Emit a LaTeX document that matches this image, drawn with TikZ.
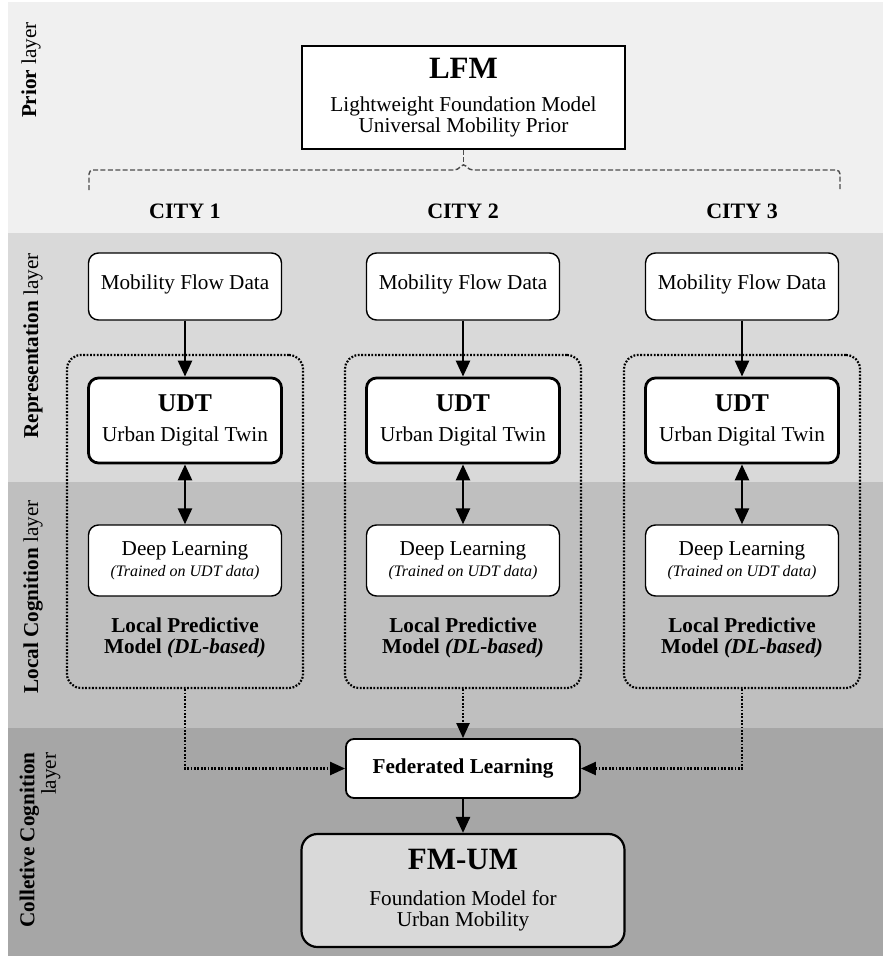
\documentclass[tikz,border=0pt]{standalone}
\usepackage{fontspec}
\setmainfont{Liberation Serif}
\usetikzlibrary{arrows.meta,positioning}
\colorlet{priorband}{black!6}
\colorlet{reprband}{black!15}
\colorlet{localband}{black!25}
\colorlet{collband}{black!35}
\colorlet{fmumfill}{black!15}
\colorlet{bracketgray}{black!70}
\newcommand{\bodysize}{\fontsize{10.6}{10.5}\selectfont}
\newcommand{\titlesize}{\fontsize{15.5}{16}\selectfont\bfseries}
\newcommand{\udtsize}{\fontsize{12.8}{13}\selectfont\bfseries}
\newcommand{\notesize}{\fontsize{8}{9}\selectfont\itshape}

\begin{document}
\begin{tikzpicture}[x=0.5pt,y=-0.5pt,
  box/.style={draw, fill=white, rounded corners=5pt, line width=0.7pt, minimum width=96.5pt, align=center, font=\bodysize, inner sep=2pt},
  udtbox/.style={box, line width=1.4pt, minimum height=42.5pt},
  lpmbox/.style={draw, dash pattern=on 0.9pt off 0.8pt, line width=1.1pt, rounded corners=7pt, minimum width=118pt, minimum height=166.5pt},
  layerlabel/.style={rotate=90, font=\bodysize, inner sep=0pt},
  citylabel/.style={font=\fontsize{11}{12}\selectfont\bfseries},
  lpmlabel/.style={font=\bodysize\bfseries, align=center},
  solidarrow/.style={line width=1.3pt, -{Triangle[length=8pt,width=7pt]}},
  dotarrow/.style={line width=1.1pt, dash pattern=on 0.9pt off 0.8pt, -{Triangle[length=7.5pt,width=6.5pt]}},
  bracket/.style={draw=bracketgray, line width=0.7pt, dash pattern=on 2.5pt off 1.2pt}]
  \useasboundingbox (0,0) rectangle (883,963);

% layer bands
  \fill[priorband] (8,2) rectangle (883,233);
  \fill[reprband] (8,233) rectangle (883,482);
  \fill[localband] (8,482) rectangle (883,728);
  \fill[collband] (8,728) rectangle (883,956);

  \node[layerlabel] (prior_lbl) at (31,70) {\textbf{Prior} layer};
  \node[layerlabel] (repr_lbl) at (33,346) {\textbf{Representation} layer};
  \node[layerlabel] (local_lbl) at (33,597) {\textbf{Local Cognition} layer};
  \node[layerlabel, align=right, font=\fontsize{10.6}{7.6}\selectfont] (coll_lbl) at (40,840) {\textbf{Colletive Cognition}\\layer};

% prior model
  \coordinate (lfm_c) at (463.5,97.5);
  \node[draw, fill=white, line width=1pt, minimum width=161.5pt, minimum height=51.5pt, align=center, font=\bodysize] (lfm) at (lfm_c) {\titlesize LFM\\[6pt]Lightweight Foundation Model\\Universal Mobility Prior};

  \coordinate (br_left) at (89,190);
  \coordinate (br_right) at (840,190);
  \coordinate (br_peak) at (463.5,163);
  \draw[bracket] (lfm.south) -- (br_peak);
  \draw[bracket, rounded corners=2pt] (br_left) -- (89,170) -- (458,170) -- (br_peak) -- (469,170) -- (840,170) -- (br_right);

% cities
  \foreach \i/\x in {1/185,2/463,3/742}{
    \node[citylabel] (city\i) at (\x,211) {CITY \i};
    \node[lpmbox] (lpm_box\i) at (\x,521.5) {};
    \node[box, minimum height=33.5pt, text depth=4pt] (mfd\i) at (\x,286.5) {Mobility Flow Data};
    \node[udtbox] (udt\i) at (\x,420.5) {\udtsize UDT\\[4.5pt]Urban Digital Twin};
    \node[box, minimum height=35.5pt] (dl\i) at (\x,560.5) {Deep Learning\\\notesize (Trained on UDT data)};
    \node[lpmlabel] (lpm\i) at (\x,637.5) {Local Predictive\\Model \textit{(DL-based)}};
    \draw[solidarrow] (mfd\i) -- (udt\i);
    \draw[solidarrow, {Triangle[length=8pt,width=7pt]}-{Triangle[length=8pt,width=7pt]}] (udt\i) -- (dl\i);
  }

% collective cognition
  \node[draw, fill=white, rounded corners=4pt, line width=0.9pt, minimum width=117pt, minimum height=29.5pt, font=\bodysize\bfseries] (fl) at (463,768.5) {Federated Learning};
  \node[draw, fill=fmumfill, rounded corners=8pt, line width=1.1pt, minimum width=161.5pt, minimum height=56.5pt, align=center, font=\bodysize] (fmum) at (463,890.5) {\titlesize FM-UM\\[7.5pt]Foundation Model for\\Urban Mobility};

  \draw[dotarrow] (lpm_box1.south) |- (fl.west);
  \draw[dotarrow] (lpm_box2.south) -- (fl.north);
  \draw[dotarrow] (lpm_box3.south) |- (fl.east);
  \draw[solidarrow] (fl) -- (fmum);

\end{tikzpicture}
\end{document}
